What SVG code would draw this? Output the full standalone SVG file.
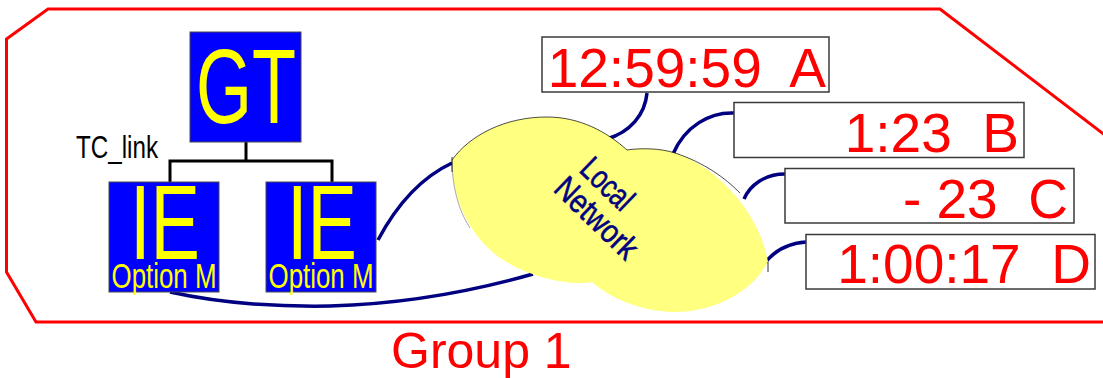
<svg xmlns="http://www.w3.org/2000/svg" width="1103" height="378" viewBox="0 0 1103 378">
  <style>
    .box { fill: #0000ff; stroke: #4a4a4a; stroke-width: 1; }
    .big { font-family: "Liberation Sans", Arial, sans-serif; fill: #ffff00; }
    .opt { font-family: "Liberation Sans", Arial, sans-serif; font-size: 35px; fill: #ffff00; }
    .clock { fill: #ffffff; stroke: #3a3a3a; stroke-width: 1.5; }
    .time { font-family: "Liberation Sans", Arial, sans-serif; font-size: 55px; fill: #ff0000; }
    .tree { fill: none; stroke: #000000; stroke-width: 3; }
    .wire { fill: none; stroke: #000080; stroke-width: 3.5; stroke-linecap: butt; }
    .net { font-family: "Liberation Sans", Arial, sans-serif; font-size: 33px; fill: #000080; stroke: #000080; stroke-width: 0.6; }
  </style>

  <rect width="1103" height="378" fill="#ffffff"/>

  <!-- group boundary -->
  <g id="group1">
    <path d="M6.5,39 L48,9 L940,9 L1165,181 L1165,322 L36,322 L6.5,272 Z" fill="none" stroke="#ff0000" stroke-width="3"/>
    <text x="391" y="368" font-family="Liberation Sans, Arial, sans-serif" font-size="50" fill="#ff0000">Group 1</text>
  </g>

  <!-- connectors -->
  <g id="connectors">
    <path class="tree" d="M246,142 V161 M170,182 V161 H332 V182"/>
    <path class="wire" d="M647,93 C645,115 630,132 607,139"/>
    <path class="wire" d="M734,113 C710,112 685,126 673,154"/>
    <path class="wire" d="M785,174 C765,174 750,185 744,199"/>
    <path class="wire" d="M806,242 C790,243 775,250 765,263"/>
    <path class="wire" d="M378,240 C395,208 420,178 452,163"/>
    <path class="wire" d="M170,292 C215,302 270,307 330,306 C400,304 470,292 533,274"/>
  </g>

  <!-- local network cloud -->
  <g id="cloud">
    <path d="M452,160 C470,135 505,117 547,117 C580,117 607,132 627,150 C640,148 660,148 675,153 C720,168 760,215 768,262 C750,295 710,313 673,312 C640,311 610,298 592,282 C570,286 530,278 500,258 C470,236 452,200 452,160 Z" fill="#ffff80"/>
    <path d="M452,160 C470,135 505,117 547,117 C580,117 607,132 627,150 C640,148 660,148 675,153 C705,163 725,178 740,193" fill="none" stroke="#000000" stroke-width="0.7"/>
    <path d="M452,160 C452,185 458,210 470,228" fill="none" stroke="#555555" stroke-width="0.5"/>
    <path d="M452,157 V172 M768,262 V272" fill="none" stroke="#000000" stroke-width="0.8"/>
    <g transform="translate(578,171) rotate(44)">
      <text class="net" x="0" y="0" textLength="60" lengthAdjust="spacingAndGlyphs">Local</text>
      <text class="net" x="-5" y="32" textLength="102" lengthAdjust="spacingAndGlyphs">Network</text>
    </g>
  </g>

  <!-- GT node -->
  <g id="gt">
    <rect class="box" x="190" y="32" width="111" height="110"/>
    <text class="big" x="246" y="123" font-size="106" text-anchor="middle" textLength="100" lengthAdjust="spacingAndGlyphs">GT</text>
  </g>

  <text id="tc-link" x="76" y="158" font-family="Liberation Sans, Arial, sans-serif" font-size="31" fill="#000000" textLength="82" lengthAdjust="spacingAndGlyphs">TC_link</text>

  <!-- IE nodes -->
  <g id="ie1">
    <rect class="box" x="109" y="182" width="110" height="110"/>
    <text class="big" x="165" y="259" font-size="106" text-anchor="middle" textLength="70" lengthAdjust="spacingAndGlyphs">IE</text>
    <text class="opt" x="164" y="288" text-anchor="middle" textLength="105" lengthAdjust="spacingAndGlyphs">Option M</text>
  </g>
  <g id="ie2">
    <rect class="box" x="266" y="182" width="110" height="110"/>
    <text class="big" x="322" y="259" font-size="106" text-anchor="middle" textLength="70" lengthAdjust="spacingAndGlyphs">IE</text>
    <text class="opt" x="321" y="288" text-anchor="middle" textLength="105" lengthAdjust="spacingAndGlyphs">Option M</text>
  </g>

  <!-- clock displays -->
  <g id="clock-a">
    <rect class="clock" x="542" y="37" width="287" height="55"/>
    <text class="time" x="826" y="87" text-anchor="end" xml:space="preserve">12:59:59  A</text>
  </g>
  <g id="clock-b">
    <rect class="clock" x="734" y="102.5" width="290" height="55"/>
    <text class="time" x="1019" y="152" text-anchor="end" xml:space="preserve">1:23  B</text>
  </g>
  <g id="clock-c">
    <rect class="clock" x="785" y="168.5" width="289" height="54.5"/>
    <text class="time" x="1068" y="218" text-anchor="end" xml:space="preserve">- 23  C</text>
  </g>
  <g id="clock-d">
    <rect class="clock" x="806" y="234.5" width="289" height="54.5"/>
    <text class="time" x="1091" y="283" text-anchor="end" xml:space="preserve">1:00:17  D</text>
  </g>
</svg>
